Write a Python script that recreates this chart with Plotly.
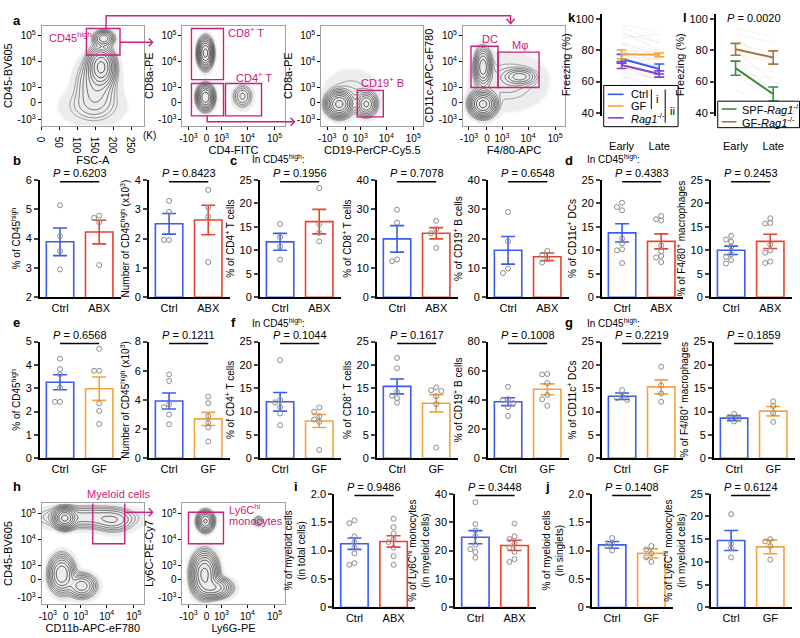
import numpy as np
import plotly.graph_objects as go

W, H = 800, 638
BLUE, RED, ORANGE = "#3a5cf2", "#e8432e", "#f5a33a"
PURPLE, GREEN, BROWN = "#8d3fca", "#3d8b40", "#a8733f"
MAG = "#c8207e"
DOT = "#8c8c8c"

# ---------------- bar panels: individual mice, mean, sem ----------------
b1_ctrl, b1_abx = [5.13, 4.08, 3.57, 2.95], [4.78, 4.70, 4.55, 3.10]
b1_mean, b1_sem = [3.89, 4.22], [0.47, 0.40]
b2_ctrl, b2_abx = [3.28, 2.90, 1.95, 1.95], [3.65, 3.05, 2.74, 1.20]
b2_mean, b2_sem = [2.50, 2.63], [0.35, 0.50]
c1_ctrl, c1_abx = [15.6, 12.8, 10.8, 8.0], [23.2, 15.6, 13.7, 11.9]
c1_mean, c1_sem = [11.8, 16.1], [1.8, 2.6]
c2_ctrl, c2_abx = [29.8, 25.4, 12.9, 12.3], [26.0, 23.1, 21.8, 16.8]
c2_mean, c2_sem = [19.9, 21.8], [4.5, 1.9]
c3_ctrl, c3_abx = [29.0, 19.0, 9.8, 8.3], [15.8, 14.5, 13.0, 11.8]
c3_mean, c3_sem = [16.0, 13.8], [4.7, 1.3]
d1_ctrl = [20.1, 19.2, 18.5, 12.5, 11.5, 10.2, 10.0, 7.3]
d1_abx = [17.3, 16.6, 16.3, 11.0, 9.8, 8.8, 8.5, 7.5]
d1_mean, d1_sem = [13.7, 11.9], [1.95, 1.6]
d2_ctrl = [13.1, 12.3, 11.8, 10.8, 9.2, 8.6, 7.9, 7.2]
d2_abx = [16.8, 15.8, 15.7, 11.2, 10.0, 9.5, 7.6, 7.3]
d2_mean, d2_sem = [10.0, 11.9], [0.9, 1.5]

e1_ctrl, e1_gf = [4.27, 3.82, 3.60, 3.03, 2.42, 2.42], [4.69, 3.75, 3.75, 2.35, 2.03, 1.47]
e1_mean, e1_sem = [3.26, 2.98], [0.32, 0.50]
e2_ctrl, e2_gf = [5.75, 5.30, 3.70, 3.50, 3.00, 2.33], [4.23, 3.78, 2.90, 2.45, 2.12, 1.15]
e2_mean, e2_sem = [3.93, 2.70], [0.55, 0.45]
f1_ctrl, f1_gf = [21.0, 12.5, 12.0, 11.0, 9.6, 7.1], [10.9, 10.0, 9.0, 8.3, 7.8, 1.8]
f1_mean, f1_sem = [12.1, 8.0], [2.0, 1.4]
f2_ctrl, f2_gf = [21.5, 19.3, 14.2, 13.4, 12.9, 11.9], [15.2, 14.6, 14.4, 13.3, 11.6, 2.3]
f2_mean, f2_sem = [15.4, 11.8], [1.6, 1.85]
f3_ctrl, f3_gf = [49.0, 40.5, 40.0, 37.8, 35.0, 29.0], [57.8, 57.5, 51.5, 43.5, 40.5, 36.0]
f3_mean, f3_sem = [38.8, 47.3], [2.7, 3.7]
g1_ctrl, g1_gf = [14.6, 13.2, 12.9, 12.5], [19.6, 15.6, 13.9, 12.1]
g1_mean, g1_sem = [13.3, 15.3], [0.7, 1.5]
g2_ctrl, g2_gf = [9.5, 8.8, 8.6, 7.9], [12.2, 11.2, 9.7, 7.8]
g2_mean, g2_sem = [8.6, 10.1], [0.55, 1.0]

i1_ctrl = [1.53, 1.48, 1.25, 1.15, 1.05, 0.95, 0.78, 0.75]
i1_abx = [1.56, 1.41, 1.30, 1.20, 1.15, 1.05, 0.90, 0.75]
i1_mean, i1_sem = [1.12, 1.16], [0.10, 0.10]
i2_ctrl = [37.0, 29.3, 27.0, 25.0, 22.0, 20.5, 19.5, 17.5]
i2_abx = [29.5, 25.0, 24.0, 22.5, 21.0, 19.5, 17.0, 16.0]
i2_mean, i2_sem = [24.7, 21.8], [2.3, 1.8]
j1_ctrl, j1_gf = [1.22, 1.12, 1.08, 1.00], [1.08, 1.02, 0.95, 0.88, 0.80]
j1_mean, j1_sem = [1.10, 0.95], [0.06, 0.08]
j2_ctrl, j2_gf = [20.5, 14.0, 13.0, 11.0], [15.0, 14.5, 13.5, 10.5]
j2_mean, j2_sem = [14.7, 13.3], [2.2, 1.5]

# ---------------- k / l freezing ----------------
stages = ["Early", "Late"]
k_ctrl_mean, k_ctrl_sem = [74.5, 68.0], [2.8, 3.2]
k_gf_mean, k_gf_sem = [77.3, 77.0], [2.8, 1.2]
k_rag_mean, k_rag_sem = [70.5, 64.8], [2.2, 2.0]
k_ctrl_each = [[95, 84], [88, 90], [84, 70], [79, 74], [75, 62], [70, 66], [64, 55], [58, 50]]
k_gf_each = [[96, 92], [90, 85], [84, 80], [80, 78], [76, 74], [72, 75], [68, 70], [62, 66]]
k_rag_each = [[92, 80], [85, 76], [80, 68], [74, 70], [70, 60], [66, 62], [60, 52], [55, 45]]
l_spf_mean, l_spf_sem = [68.5, 52.0], [4.5, 4.5]
l_gf_mean, l_gf_sem = [80.5, 75.3], [3.8, 4.2]
l_spf_each = [[88, 70], [80, 60], [72, 55], [64, 48], [55, 40], [50, 36]]
l_gf_each = [[94, 88], [90, 85], [84, 78], [78, 72], [72, 66], [66, 62]]

# ---------------- flow populations (display units; x of FSC in K) ----------------
TICKV = [6, 24, 39, 65, 92]
TICKT = ["-10<sup>3</sup>", "0", "10<sup>3</sup>", "10<sup>4</sup>", "10<sup>5</sup>"]
fsc_cx, fsc_cy = [165, 172, 150, 140], [60, 89, 42, 20]
fsc_sx, fsc_sy = [17, 14, 28, 45], [9, 4, 14, 10]
fsc_w = [1.0, 0.35, 0.15, 0.05]
cd4_cx, cd4_cy = [23, 23, 60], [74, 29, 30]
cd4_sx, cd4_sy = [3.5, 4.0, 5.0], [7, 6, 6]
cd4_w = [1.0, 0.8, 0.12]
cd19_cx, cd19_cy = [18, 45, 30], [22, 22, 35]
cd19_sx, cd19_sy = [6, 5, 15], [6, 6, 12]
cd19_w = [1.0, 0.4, 0.03]
f480_cx, f480_cy = [20, 20, 57, 45], [22, 60, 50, 45]
f480_sx, f480_sy = [6, 4, 8, 20], [6, 9, 4, 15]
f480_w = [1.0, 0.5, 0.18, 0.04]
cd11b_cx, cd11b_cy = [23, 45, 72, 20, 40], [87, 88, 84, 30, 18]
cd11b_sx, cd11b_sy = [5, 25, 10, 6, 7], [5, 6, 6, 9, 6]
cd11b_w = [1.0, 0.15, 0.12, 0.6, 0.35]
ly6_cx, ly6_cy = [23, 76, 22, 32], [84, 84, 30, 16]
ly6_sx, ly6_sy = [4, 3, 6, 8], [5, 3, 10, 5]
ly6_w = [0.6, 0.08, 1.0, 0.5]

fig = go.Figure()
layout = {}
shapes, annots = [], []
count = [0]


def PX(x):
    return x / W


def PY(y):
    return 1 - y / H


def new_axes(x0, x1, top, bottom, xa, ya):
    count[0] += 1
    s = "" if count[0] == 1 else str(count[0])
    layout["xaxis" + s] = dict(domain=[PX(x0), PX(x1)], anchor="y" + s, showgrid=False, zeroline=False, **xa)
    layout["yaxis" + s] = dict(domain=[PY(bottom), PY(top)], anchor="x" + s, showgrid=False, zeroline=False, **ya)
    return "x" + s, "y" + s


def txt(x, y, s, size=11, color="black", anchor="center"):
    annots.append(dict(xref="paper", yref="paper", x=PX(x), y=PY(y), text=s, showarrow=False,
                       font=dict(size=size, color=color), xanchor=anchor, yanchor="middle"))


def path(pts, color=MAG, width=1.4):
    d = "M " + " L ".join(f"{PX(x):.5f},{PY(y):.5f}" for x, y in pts)
    shapes.append(dict(type="path", xref="paper", yref="paper", path=d, line=dict(color=color, width=width)))


def spread(vals, span, step=0.13, tol=0.04):
    offs = []
    for i, v in enumerate(vals):
        used = [offs[j] for j in range(i) if abs(vals[j] - v) < tol * span]
        for o in [0, -step, step, -2 * step, 2 * step, -3 * step, 3 * step]:
            if all(abs(o - u) > 1e-9 for u in used):
                break
        offs.append(o)
    return offs


ROWS = {1: (177, 297), 2: (342, 461), 3: (497, 613)}


def bar_panel(left, row, names, colors, pts, means, sems, p, ytitle, yrange, dtick, tt=None):
    top, bottom = ROWS[row]
    unit = 39.5
    xa = dict(range=[-20.5 / unit, 61.5 / unit], tickvals=[0, 1], ticktext=names, showline=True,
              linecolor="black", linewidth=1.5, ticks="", tickfont=dict(size=11))
    ya = dict(range=yrange, showline=True, linecolor="black", linewidth=1.5, ticks="outside",
              ticklen=4, tickwidth=1.5, tickfont=dict(size=11),
              title=dict(text=ytitle, font=dict(size=10), standoff=3))
    if tt:
        ya.update(tickvals=tt[0], ticktext=tt[1])
    else:
        ya.update(tick0=0, dtick=dtick)
    xr, yr = new_axes(left, left + 82, top, bottom, xa, ya)
    span = yrange[1] - yrange[0]
    for g in range(2):
        c = colors[g]
        fig.add_trace(go.Bar(x=[g], y=[means[g]], width=0.7, xaxis=xr, yaxis=yr, showlegend=False,
                             marker=dict(color="white", line=dict(color=c, width=1.6)),
                             error_y=dict(type="data", array=[sems[g]], color=c, thickness=1.6, width=7),
                             hoverinfo="skip"))
        fig.add_trace(go.Scatter(x=[g + o for o in spread(pts[g], span)], y=pts[g], mode="markers",
                                 xaxis=xr, yaxis=yr, showlegend=False, hoverinfo="skip", cliponaxis=False,
                                 marker=dict(symbol="circle-open", size=5, color=DOT, line=dict(width=1))))
    shapes.append(dict(type="line", xref=xr, yref="paper", x0=0, x1=1, y0=PY(top + 2), y1=PY(top + 2),
                       line=dict(color="black", width=1.5)))
    annots.append(dict(xref=xr, yref="paper", x=0.5, y=PY(top - 7), text="<i>P</i> = " + p,
                       showarrow=False, font=dict(size=11), yanchor="middle"))


def flow_panel(left, top, cx, cy, sx, sy, w, xtitle, ytitle, gates, xlin=None):
    xa = dict(range=[0, 102], tickvals=TICKV, ticktext=TICKT)
    if xlin:
        xa = dict(range=xlin[0], tickvals=xlin[1], ticktext=xlin[2])
    common = dict(showline=True, mirror=True, linecolor="#a0a0a0", linewidth=1, ticks="outside",
                  ticklen=3, tickcolor="black", tickfont=dict(size=10))
    xa.update(common, title=dict(text=xtitle, font=dict(size=11), standoff=2))
    ya = dict(range=[0, 102], tickvals=TICKV, ticktext=TICKT, title=dict(text=ytitle, font=dict(size=11), standoff=2))
    ya.update(common)
    xr, yr = new_axes(left, left + 103, top, top + 102, xa, ya)
    gx = np.linspace(xa["range"][0], xa["range"][1], 160)
    gy = np.linspace(0, 102, 160)
    X, Y = np.meshgrid(gx, gy)
    d = np.zeros_like(X)
    for a, b, s1, s2, ww in zip(cx, cy, sx, sy, w):
        d += ww * np.exp(-0.5 * ((X - a) / s1) ** 2 - 0.5 * ((Y - b) / s2) ** 2)
    z = np.log10(d / d.max() + 1e-7)
    # sparse events: light stipple-like haze
    fig.add_trace(go.Heatmap(x=gx, y=gy, z=z, xaxis=xr, yaxis=yr, showscale=False, hoverinfo="skip",
                             zmin=-7, zmax=0, zsmooth="best",
                             colorscale=[[0, "rgba(255,255,255,0)"], [0.64, "rgba(255,255,255,0)"],
                                         [0.68, "rgba(160,160,160,0.2)"], [1, "rgba(160,160,160,0.2)"]]))
    fig.add_trace(go.Contour(x=gx, y=gy, z=z, xaxis=xr, yaxis=yr, showscale=False, hoverinfo="skip",
                             contours=dict(coloring="lines", start=-1.7, end=-0.06, size=0.18),
                             line=dict(width=0.7),
                             colorscale=[[0, "#777"], [0.3, "#333"], [1, "#000"]]))
    for g in gates:
        shapes.append(dict(type="rect", xref=xr, yref=yr, x0=g[0], x1=g[1], y0=g[2], y1=g[3],
                           line=dict(color=MAG, width=1.4)))
    return xr, yr


# ---------------- row a: gating ----------------
flow_panel(35, 20, fsc_cx, fsc_cy, fsc_sx, fsc_sy, fsc_w, "FSC-A", "CD45-BV605",
           [(124, 217, 72, 99)],
           xlin=([0, 283], [0, 50, 100, 150, 200, 250], ["0", "50", "100", "150", "200", "250"]))
txt(135, 132, "(K)", size=10, anchor="left")
flow_panel(177, 20, cd4_cx, cd4_cy, cd4_sx, cd4_sy, cd4_w, "CD4-FITC", "CD8a-PE",
           [(9, 41, 47, 99), (9, 41, 10, 43), (43, 79, 10, 43)])
flow_panel(317, 20, cd19_cx, cd19_cy, cd19_sx, cd19_sy, cd19_w, "CD19-PerCP-Cy5.5", "CD8a-PE",
           [(36, 62, 9, 36)])
flow_panel(460, 20, f480_cx, f480_cy, f480_sx, f480_sy, f480_w, "F4/80-APC", "CD11c-APC-eF780",
           [(8, 35, 39, 81), (35, 76, 39, 75)])
txt(40, 32, "CD45<sup>high</sup>", color=MAG, anchor="left")
txt(221, 27, "CD8<sup>+</sup> T", color=MAG, anchor="left")
txt(229, 72, "CD4<sup>+</sup> T", color=MAG, anchor="left")
txt(355, 77, "CD19<sup>+</sup> B", color=MAG, anchor="left")
txt(477, 34, "DC", color=MAG, anchor="left")
txt(507, 40, "Mφ", color=MAG, anchor="left")
path([(100, 23), (100, 10), (508, 10), (508, 18)])
path([(504, 13), (508, 18), (512, 13)])
path([(114, 37), (147, 37)])
path([(143, 33), (147, 37), (143, 41)])
path([(202, 112), (202, 118), (290, 118)])
path([(286, 114), (290, 118), (286, 122)])

# ---------------- row h ----------------
flow_panel(35, 507, cd11b_cx, cd11b_cy, cd11b_sx, cd11b_sy, cd11b_w, "CD11b-APC-eF780", "CD45-BV605",
           [(51, 83, 61, 104)])
flow_panel(177, 507, ly6_cx, ly6_cy, ly6_sx, ly6_sy, ly6_w, "Ly6G-PE", "Ly6C-PE-Cy7",
           [(6, 41, 61, 93)])
txt(112, 497, "Myeloid cells", color=MAG)
txt(222, 513, "Ly6C<sup>hi</sup>", color=MAG, anchor="left")
txt(222, 525, "monocytes", color=MAG, anchor="left")
path([(118, 516), (147, 516)])
path([(143, 512), (147, 516), (143, 520)])

# ---------------- bar rows ----------------
A, G = ["Ctrl", "ABX"], ["Ctrl", "GF"]
CA, CG = [BLUE, RED], [BLUE, ORANGE]
high = "CD45<sup>high</sup>"
bar_panel(33, 1, A, CA, [b1_ctrl, b1_abx], b1_mean, b1_sem, "0.6203", "% of " + high, [2, 6], 1)
bar_panel(143, 1, A, CA, [b2_ctrl, b2_abx], b2_mean, b2_sem, "0.8423", "Number of " + high + " (x10<sup>3</sup>)", [0, 4], 1)
bar_panel(255, 1, A, CA, [c1_ctrl, c1_abx], c1_mean, c1_sem, "0.1956", "% of CD4<sup>+</sup> T cells", [0, 25], 5)
bar_panel(373, 1, A, CA, [c2_ctrl, c2_abx], c2_mean, c2_sem, "0.7078", "% of CD8<sup>+</sup> T cells", [0, 40], 10)
bar_panel(485, 1, A, CA, [c3_ctrl, c3_abx], c3_mean, c3_sem, "0.6548", "% of CD19<sup>+</sup> B cells", [0, 40], 10)
bar_panel(600, 1, A, CA, [d1_ctrl, d1_abx], d1_mean, d1_sem, "0.4383", "% of CD11c<sup>+</sup> DCs", [0, 25], 5)
bar_panel(710, 1, A, CA, [d2_ctrl, d2_abx], d2_mean, d2_sem, "0.2453", "% of F4/80<sup>+</sup> macrophages", [0, 25], 5)

bar_panel(33, 2, G, CG, [e1_ctrl, e1_gf], e1_mean, e1_sem, "0.6568", "% of " + high, [0, 5], 1)
bar_panel(143, 2, G, CG, [e2_ctrl, e2_gf], e2_mean, e2_sem, "0.1211", "Number of " + high + " (x10<sup>3</sup>)", [0, 8], 2)
bar_panel(255, 2, G, CG, [f1_ctrl, f1_gf], f1_mean, f1_sem, "0.1044", "% of CD4<sup>+</sup> T cells", [0, 25], 5)
bar_panel(373, 2, G, CG, [f2_ctrl, f2_gf], f2_mean, f2_sem, "0.1617", "% of CD8<sup>+</sup> T cells", [0, 25], 5)
bar_panel(485, 2, G, CG, [f3_ctrl, f3_gf], f3_mean, f3_sem, "0.1008", "% of CD19<sup>+</sup> B cells", [0, 80], 20)
bar_panel(600, 2, G, CG, [g1_ctrl, g1_gf], g1_mean, g1_sem, "0.2219", "% of CD11c<sup>+</sup> DCs", [0, 25], 5)
bar_panel(713, 2, G, CG, [g2_ctrl, g2_gf], g2_mean, g2_sem, "0.1859", "% of F4/80<sup>+</sup> macrophages", [0, 25], 5)

half = ([0, 0.5, 1, 1.5, 2], ["0", "0.5", "1.0", "1.5", "2.0"])
bar_panel(330, 3, A, CA, [i1_ctrl, i1_abx], i1_mean, i1_sem, "0.9486", "% of myeloid cells<br>(in total cells)", [0, 2], 0.5, half)
bar_panel(452, 3, A, CA, [i2_ctrl, i2_abx], i2_mean, i2_sem, "0.3448", "% of Ly6C<sup>hi</sup> monocytes<br>(in myeloid cells)", [0, 40], 10)
bar_panel(590, 3, G, CG, [j1_ctrl, j1_gf], j1_mean, j1_sem, "0.1408", "% of myeloid cells<br>(in singlets)", [0, 2], 0.5, half)
bar_panel(710, 3, G, CG, [j2_ctrl, j2_gf], j2_mean, j2_sem, "0.6124", "% of Ly6C<sup>hi</sup> monocytes<br>(in myeloid cells)", [0, 25], 5)


# ---------------- k / l ----------------
def freeze_panel(left, right, each_sets, means, sems, colors, pales):
    xa = dict(range=[-20 / 38, (right - left - 20) / 38], tickvals=[0, 1], ticktext=stages, showline=False,
              ticks="", tickfont=dict(size=11), ticklabelstandoff=22)
    ya = dict(range=[38.1, 103.1], tickvals=[40, 60, 80, 100], showline=True, linecolor="black", linewidth=1.5,
              ticks="outside", ticklen=4, tickwidth=1.5, tickfont=dict(size=11),
              title=dict(text="Freezing (%)", font=dict(size=11), standoff=3))
    xr, yr = new_axes(left, right, 8, 112, xa, ya)
    for each, pale in zip(each_sets, pales):
        for e in each:
            fig.add_trace(go.Scatter(x=[0, 1], y=e, mode="lines", line=dict(color=pale, width=0.8),
                                     xaxis=xr, yaxis=yr, showlegend=False, hoverinfo="skip"))
    for m, s, c in zip(means, sems, colors):
        fig.add_trace(go.Scatter(x=[0, 1], y=m, mode="lines", line=dict(color=c, width=2),
                                 error_y=dict(type="data", array=s, color=c, thickness=1.6, width=5),
                                 xaxis=xr, yaxis=yr, showlegend=False, hoverinfo="skip", cliponaxis=False))


freeze_panel(600, 681, [k_ctrl_each, k_gf_each, k_rag_each],
             [k_ctrl_mean, k_gf_mean, k_rag_mean], [k_ctrl_sem, k_gf_sem, k_rag_sem],
             [BLUE, ORANGE, PURPLE],
             ["rgba(58,92,242,0.13)", "rgba(245,163,58,0.18)", "rgba(141,63,202,0.13)"])
freeze_panel(715, 800, [l_spf_each, l_gf_each],
             [l_spf_mean, l_gf_mean], [l_spf_sem, l_gf_sem], [GREEN, BROWN],
             ["rgba(150,150,150,0.18)", "rgba(168,115,63,0.12)"])
txt(754, 12, "<i>P</i> = 0.0020")

shapes.append(dict(type="rect", xref="paper", yref="paper", x0=PX(602), x1=PX(677), y0=PY(123), y1=PY(81),
                   line=dict(color="black", width=1), fillcolor="white", layer="above"))
for y, c, s in [(90, BLUE, "Ctrl"), (102, ORANGE, "GF"), (114, PURPLE, "<i>Rag1</i><sup>-/-</sup>")]:
    path([(606, y), (622, y)], color=c, width=1.6)
    txt(627, y, s, anchor="left")
path([(650, 85), (650, 105)], color="black", width=1)
txt(653, 95, "i", anchor="left")
path([(664, 85), (664, 119)], color="black", width=1)
txt(667, 107, "ii", anchor="left")
shapes.append(dict(type="rect", xref="paper", yref="paper", x0=PX(717), x1=PX(799.5), y0=PY(124), y1=PY(97),
                   line=dict(color="black", width=1), fillcolor="white", layer="above"))
for y, c, s in [(105, GREEN, "SPF-<i>Rag1</i><sup>-/-</sup>"), (118, BROWN, "GF-<i>Rag1</i><sup>-/-</sup>")]:
    path([(721, y), (736, y)], color=c, width=1.6)
    txt(739, y, s, anchor="left")

# ---------------- panel letters / headers ----------------
for x, y, s in [(10, 15, "a"), (570, 12, "k"), (684, 12, "l"), (10, 157, "b"), (229, 157, "c"),
                (567, 157, "d"), (10, 323, "e"), (229, 323, "f"), (567, 323, "g"), (10, 490, "h"),
                (292, 490, "i"), (545, 490, "j")]:
    txt(x, y, "<b>" + s + "</b>", size=13)
for x, y in [(245, 156), (583, 156), (245, 323), (583, 323)]:
    txt(x, y, "In CD45<sup>high</sup>:", size=10, anchor="left")

fig.update_layout(**layout)
fig.update_layout(width=W, height=H, margin=dict(l=0, r=0, t=0, b=0), barmode="overlay",
                  plot_bgcolor="white", paper_bgcolor="white",
                  font=dict(family="Liberation Sans, Arial, sans-serif", size=11, color="black"),
                  shapes=shapes, annotations=annots, showlegend=False)
fig.write_html("out.html", config={"displayModeBar": False},
               post_script="document.body.style.margin='0';")
